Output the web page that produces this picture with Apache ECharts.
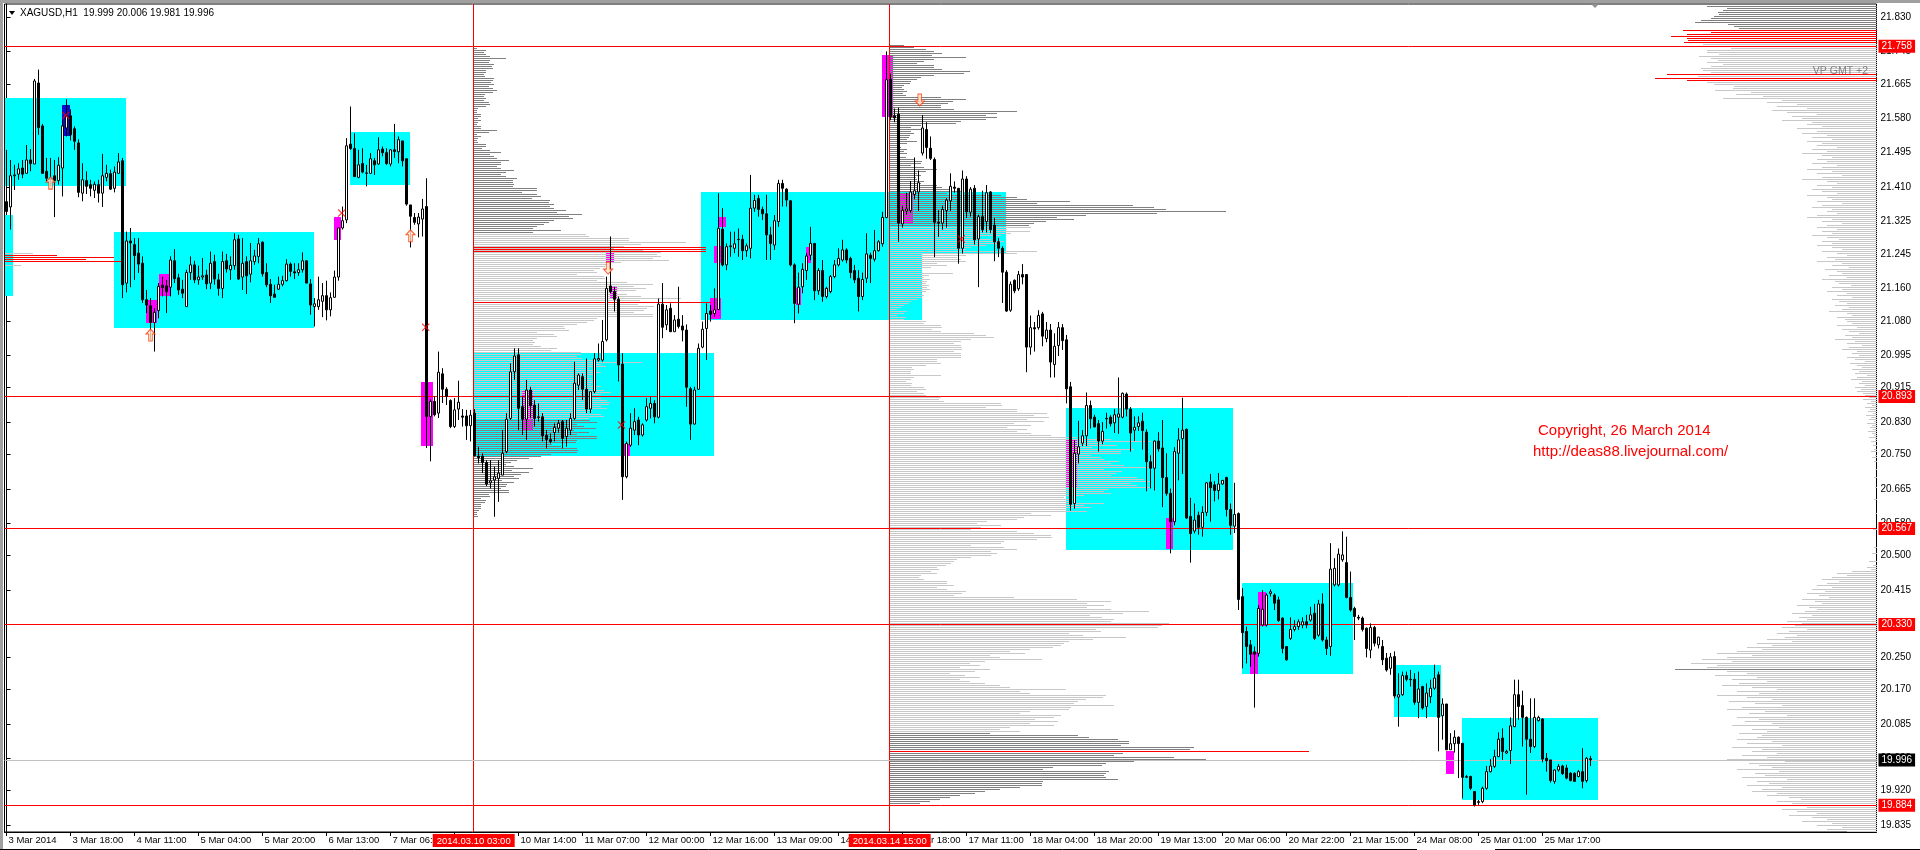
<!DOCTYPE html>
<html><head><meta charset="utf-8">
<script src="https://cdn.jsdelivr.net/npm/echarts@6/dist/echarts.min.js"></script>
<style>html,body{margin:0;padding:0;background:#fff;overflow:hidden}#c{width:1920px;height:850px}</style>
</head><body><div id="c"></div>
<script>
// ---------- DATA ----------
const symbolTitle = 'XAGUSD,H1  19.999 20.006 19.981 19.996';
const timeLabels = ['3 Mar 2014','3 Mar 18:00','4 Mar 11:00','5 Mar 04:00','5 Mar 20:00','6 Mar 13:00','7 Mar 06:00','7 Mar 22:00','10 Mar 14:00','11 Mar 07:00','12 Mar 00:00','12 Mar 16:00','13 Mar 09:00','14 Mar 02:00','14 Mar 18:00','17 Mar 11:00','18 Mar 04:00','18 Mar 20:00','19 Mar 13:00','20 Mar 06:00','20 Mar 22:00','21 Mar 15:00','24 Mar 08:00','25 Mar 01:00','25 Mar 17:00'];
const barsPerLabel = 16;
const slotCount = 468;
const yTicks = [19.835,19.920,20.000,20.085,20.170,20.250,20.330,20.415,20.500,20.580,20.665,20.750,20.830,20.915,20.995,21.080,21.160,21.245,21.325,21.410,21.495,21.580,21.665,21.745,21.830];
const yMin = 19.818, yMax = 21.862;
// hourly bars: [open, high, low, close]
const bars = [
[21.374,21.502,21.346,21.350],[21.361,21.477,21.305,21.438],[21.438,21.465,21.403,21.440],[21.442,21.469,21.428,21.455],[21.457,21.477,21.432,21.442],
[21.444,21.514,21.444,21.477],[21.477,21.504,21.449,21.468],[21.467,21.677,21.467,21.672],[21.667,21.700,21.539,21.557],[21.561,21.566,21.443,21.444],
[21.449,21.482,21.424,21.432],[21.432,21.482,21.412,21.428],[21.438,21.477,21.336,21.426],[21.426,21.484,21.416,21.464],[21.457,21.575,21.387,21.561],
[21.556,21.627,21.535,21.584],[21.586,21.602,21.525,21.539],[21.554,21.560,21.502,21.523],[21.519,21.528,21.385,21.397],[21.395,21.469,21.375,21.428],
[21.426,21.449,21.393,21.412],[21.416,21.428,21.387,21.407],[21.402,21.424,21.383,21.417],[21.416,21.428,21.372,21.395],[21.395,21.492,21.361,21.438],
[21.434,21.465,21.424,21.444],[21.443,21.453,21.403,21.405],[21.407,21.461,21.397,21.447],[21.444,21.494,21.444,21.472],[21.475,21.482,21.136,21.169],
[21.173,21.300,21.150,21.277],[21.277,21.309,21.163,21.272],[21.268,21.284,21.181,21.241],[21.247,21.284,21.198,21.220],[21.222,21.239,21.124,21.132],
[21.132,21.156,21.099,21.119],[21.117,21.136,21.033,21.076],[21.076,21.111,21.004,21.101],[21.105,21.173,21.086,21.165],[21.168,21.189,21.140,21.162],
[21.166,21.181,21.099,21.152],[21.163,21.239,21.140,21.230],[21.228,21.257,21.173,21.184],[21.186,21.196,21.144,21.156],[21.158,21.181,21.136,21.148],
[21.115,21.206,21.115,21.199],[21.199,21.239,21.181,21.218],[21.218,21.228,21.173,21.181],[21.181,21.216,21.169,21.188],[21.188,21.235,21.181,21.191],
[21.193,21.206,21.158,21.171],[21.173,21.251,21.158,21.222],[21.226,21.243,21.169,21.183],[21.181,21.196,21.142,21.160],[21.160,21.251,21.136,21.226],
[21.228,21.245,21.199,21.208],[21.206,21.239,21.181,21.217],[21.216,21.296,21.206,21.280],[21.282,21.292,21.181,21.183],[21.188,21.284,21.156,21.222],
[21.226,21.239,21.146,21.191],[21.195,21.272,21.175,21.228],[21.226,21.255,21.218,21.240],[21.239,21.284,21.222,21.270],[21.274,21.276,21.189,21.196],
[21.199,21.222,21.163,21.169],[21.170,21.183,21.124,21.142],[21.146,21.169,21.138,21.138],[21.158,21.189,21.156,21.170],[21.170,21.191,21.165,21.179],
[21.179,21.232,21.177,21.220],[21.220,21.224,21.189,21.202],[21.201,21.222,21.183,21.198],[21.199,21.222,21.191,21.206],[21.206,21.249,21.199,21.228],
[21.228,21.230,21.173,21.173],[21.171,21.183,21.095,21.119],[21.115,21.136,21.066,21.122],[21.115,21.189,21.107,21.132],[21.128,21.173,21.089,21.142],
[21.142,21.179,21.081,21.107],[21.107,21.150,21.091,21.137],[21.138,21.204,21.137,21.188],[21.188,21.309,21.179,21.309],[21.309,21.362,21.305,21.327],
[21.329,21.531,21.321,21.512],[21.516,21.609,21.502,21.505],[21.505,21.543,21.436,21.436],[21.434,21.502,21.432,21.465],[21.468,21.506,21.444,21.447],
[21.445,21.465,21.412,21.444],[21.444,21.494,21.443,21.480],[21.475,21.482,21.440,21.465],[21.467,21.533,21.465,21.502],[21.504,21.510,21.486,21.495],
[21.495,21.506,21.465,21.468],[21.467,21.504,21.461,21.502],[21.502,21.566,21.482,21.498],[21.497,21.535,21.469,21.527],[21.524,21.524,21.461,21.475],
[21.480,21.480,21.364,21.368],[21.366,21.366,21.261,21.338],[21.335,21.346,21.317,21.323],[21.319,21.346,21.286,21.336],[21.331,21.381,21.288,21.356],
[21.362,21.432,20.766,20.844],[20.844,20.886,20.733,20.881],[20.881,20.893,20.844,20.848],[20.852,21.004,20.840,20.953],[20.949,20.963,20.877,20.911],
[20.911,20.916,20.872,20.893],[20.883,20.886,20.815,20.819],[20.819,20.889,20.815,20.860],[20.862,20.932,20.835,20.879],[20.845,20.862,20.819,20.842],
[20.845,20.860,20.786,20.821],[20.821,20.860,20.782,20.847],[20.852,20.862,20.745,20.747],[20.746,20.769,20.728,20.742],[20.746,20.753,20.704,20.730],
[20.730,20.736,20.672,20.677],[20.680,20.736,20.666,20.685],[20.687,20.720,20.596,20.695],[20.691,20.736,20.633,20.704],[20.699,20.810,20.699,20.753],
[20.757,20.852,20.753,20.837],[20.839,20.975,20.835,20.954],[20.954,21.012,20.934,20.993],[20.996,21.012,20.810,20.864],[20.868,20.893,20.798,20.837],
[20.837,20.934,20.786,20.909],[20.909,20.917,20.839,20.870],[20.872,20.884,20.819,20.839],[20.841,20.876,20.831,20.843],[20.843,20.852,20.782,20.796],
[20.797,20.810,20.765,20.787],[20.787,20.802,20.777,20.782],[20.804,20.827,20.782,20.817],[20.815,20.835,20.804,20.827],[20.831,20.835,20.765,20.790],
[20.794,20.835,20.769,20.815],[20.810,20.852,20.798,20.839],[20.839,20.979,20.835,20.926],[20.921,20.950,20.909,20.946],[20.942,20.950,20.884,20.911],
[20.911,20.987,20.852,20.862],[20.862,20.905,20.852,20.905],[20.905,21.000,20.901,20.986],[20.983,21.024,20.979,20.987],[20.983,21.082,20.979,21.029],
[21.033,21.189,21.029,21.160],[21.166,21.288,21.148,21.152],[21.152,21.164,21.103,21.133],[21.133,21.140,20.930,20.971],[20.973,21.000,20.638,20.695],
[20.695,20.782,20.691,20.777],[20.773,20.852,20.769,20.815],[20.810,20.864,20.798,20.831],[20.835,20.843,20.773,20.798],[20.798,20.827,20.794,20.823],
[20.835,20.889,20.831,20.868],[20.864,20.893,20.839,20.876],[20.876,20.884,20.827,20.843],[20.842,21.135,20.839,21.121],[21.121,21.173,21.037,21.064],
[21.070,21.119,21.057,21.107],[21.111,21.123,21.053,21.053],[21.053,21.094,21.053,21.082],[21.084,21.164,21.061,21.066],[21.067,21.094,21.029,21.057],
[21.057,21.071,20.868,20.916],[20.912,20.917,20.786,20.825],[20.825,20.917,20.823,20.909],[20.911,21.024,20.909,21.012],[21.015,21.078,21.012,21.059],
[21.061,21.123,20.983,21.098],[21.104,21.119,21.078,21.096],[21.098,21.160,21.090,21.107],[21.108,21.395,21.107,21.308],[21.306,21.358,21.214,21.218],
[21.218,21.271,21.205,21.263],[21.263,21.300,21.238,21.265],[21.259,21.300,21.247,21.270],[21.280,21.308,21.238,21.281],[21.281,21.292,21.230,21.253],
[21.253,21.271,21.238,21.265],[21.259,21.440,21.234,21.358],[21.358,21.391,21.349,21.377],[21.382,21.391,21.337,21.355],[21.355,21.362,21.329,21.344],
[21.344,21.391,21.230,21.292],[21.292,21.312,21.230,21.271],[21.267,21.341,21.255,21.327],[21.325,21.428,21.312,21.419],[21.419,21.428,21.362,21.407],
[21.405,21.407,21.362,21.378],[21.376,21.378,21.214,21.218],[21.218,21.222,21.074,21.123],[21.121,21.199,21.098,21.163],[21.164,21.222,21.148,21.207],
[21.204,21.247,21.181,21.240],[21.242,21.312,21.230,21.271],[21.271,21.271,21.131,21.154],[21.154,21.210,21.144,21.204],[21.204,21.230,21.127,21.140],
[21.140,21.164,21.135,21.160],[21.152,21.193,21.148,21.189],[21.189,21.230,21.185,21.218],[21.218,21.259,21.214,21.234],[21.230,21.280,21.226,21.255],
[21.255,21.259,21.222,21.230],[21.234,21.238,21.185,21.199],[21.204,21.218,21.173,21.181],[21.185,21.205,21.103,21.140],[21.140,21.199,21.131,21.182],
[21.185,21.296,21.173,21.245],[21.242,21.248,21.173,21.234],[21.232,21.304,21.226,21.253],[21.253,21.279,21.251,21.275],[21.270,21.349,21.263,21.335],
[21.335,21.745,21.333,21.675],[21.676,21.690,21.575,21.583],[21.586,21.604,21.570,21.581],[21.590,21.606,21.275,21.321],[21.319,21.364,21.310,21.353],
[21.351,21.396,21.342,21.356],[21.352,21.425,21.346,21.398],[21.392,21.483,21.380,21.401],[21.398,21.451,21.351,21.421],[21.494,21.588,21.488,21.556],
[21.552,21.570,21.480,21.508],[21.506,21.535,21.477,21.481],[21.478,21.483,21.237,21.323],[21.323,21.353,21.287,21.321],[21.321,21.364,21.305,21.355],
[21.352,21.383,21.310,21.378],[21.376,21.444,21.351,21.412],[21.410,21.424,21.396,21.407],[21.407,21.407,21.221,21.259],[21.259,21.451,21.246,21.430],
[21.430,21.437,21.334,21.349],[21.348,21.410,21.337,21.405],[21.407,21.415,21.268,21.280],[21.282,21.342,21.163,21.337],[21.337,21.401,21.298,21.305],
[21.325,21.415,21.298,21.396],[21.398,21.400,21.296,21.305],[21.316,21.334,21.227,21.275],[21.275,21.284,21.237,21.259],[21.259,21.264,21.124,21.200],
[21.200,21.205,21.102,21.104],[21.106,21.177,21.102,21.170],[21.180,21.182,21.148,21.154],[21.159,21.203,21.154,21.194],[21.194,21.220,21.170,21.188],
[21.194,21.195,20.953,21.015],[21.015,21.093,20.996,21.063],[21.063,21.077,21.004,21.060],[21.063,21.106,21.058,21.093],[21.097,21.102,21.017,21.042],
[21.036,21.077,21.027,21.057],[21.057,21.072,20.940,20.978],[20.972,21.049,20.940,21.017],[21.019,21.077,20.993,21.063],[21.063,21.072,21.008,21.031],
[21.033,21.045,20.876,20.912],[20.917,20.929,20.611,20.627],[20.629,20.785,20.616,20.753],[20.751,20.833,20.728,20.769],[20.778,20.810,20.771,20.796],
[20.796,20.903,20.771,20.871],[20.871,20.883,20.814,20.838],[20.842,20.848,20.817,20.818],[20.826,20.835,20.757,20.783],[20.783,20.830,20.775,20.807],
[20.839,20.853,20.814,20.838],[20.842,20.847,20.819,20.826],[20.828,20.862,20.803,20.848],[20.842,20.940,20.801,20.850],[20.842,20.903,20.839,20.901],
[20.899,20.903,20.844,20.862],[20.862,20.867,20.757,20.803],[20.810,20.844,20.783,20.817],[20.819,20.844,20.808,20.828],[20.832,20.853,20.762,20.809],
[20.805,20.812,20.659,20.732],[20.732,20.748,20.666,20.716],[20.716,20.785,20.661,20.783],[20.783,20.805,20.757,20.764],[20.766,20.835,20.620,20.693],
[20.693,20.753,20.648,20.654],[20.654,20.666,20.506,20.584],[20.584,20.768,20.575,20.757],[20.753,20.815,20.686,20.786],[20.789,20.890,20.702,20.810],
[20.812,20.814,20.591,20.593],[20.597,20.643,20.483,20.555],[20.561,20.629,20.555,20.588],[20.600,20.609,20.552,20.570],[20.570,20.622,20.547,20.607],
[20.607,20.682,20.598,20.680],[20.682,20.702,20.584,20.668],[20.675,20.684,20.634,20.661],[20.661,20.704,20.639,20.677],[20.677,20.686,20.675,20.686],
[20.693,20.695,20.597,20.614],[20.614,20.629,20.552,20.575],[20.573,20.680,20.556,20.602],[20.604,20.607,20.366,20.392],[20.399,20.420,20.222,20.310],
[20.313,20.325,20.234,20.276],[20.280,20.292,20.226,20.257],[20.263,20.276,20.125,20.257],[20.259,20.378,20.251,20.370],[20.329,20.415,20.325,20.368],
[20.329,20.407,20.325,20.403],[20.407,20.417,20.399,20.411],[20.403,20.407,20.366,20.383],[20.391,20.399,20.337,20.340],[20.346,20.348,20.259,20.271],
[20.276,20.277,20.241,20.243],[20.296,20.348,20.292,20.318],[20.318,20.341,20.313,20.325],[20.325,20.343,20.317,20.337],[20.329,20.348,20.321,20.337],
[20.337,20.354,20.321,20.329],[20.341,20.374,20.337,20.354],[20.358,20.381,20.292,20.296],[20.304,20.391,20.300,20.381],[20.381,20.407,20.288,20.292],
[20.292,20.300,20.255,20.271],[20.276,20.531,20.253,20.467],[20.428,20.494,20.424,20.469],[20.428,20.518,20.424,20.504],[20.490,20.560,20.485,20.502],
[20.483,20.547,20.395,20.397],[20.397,20.461,20.362,20.366],[20.370,20.374,20.292,20.350],[20.348,20.354,20.341,20.346],[20.346,20.350,20.313,20.318],
[20.321,20.323,20.249,20.271],[20.267,20.333,20.247,20.323],[20.323,20.327,20.276,20.284],[20.280,20.300,20.271,20.299],[20.276,20.292,20.230,20.243],
[20.247,20.260,20.214,20.218],[20.222,20.260,20.206,20.250],[20.251,20.264,20.148,20.154],[20.151,20.210,20.078,20.157],[20.157,20.214,20.154,20.204],
[20.204,20.214,20.190,20.195],[20.195,20.218,20.177,20.194],[20.195,20.210,20.132,20.138],[20.138,20.214,20.099,20.171],[20.177,20.179,20.120,20.124],
[20.128,20.185,20.099,20.161],[20.152,20.194,20.136,20.173],[20.173,20.231,20.169,20.198],[20.206,20.214,20.017,20.101],[20.105,20.148,20.046,20.134],
[20.134,20.134,20.021,20.021],[20.021,20.062,20.021,20.036],[20.036,20.069,20.014,20.052],[20.052,20.054,19.951,20.036],[20.037,20.037,19.901,19.953],
[19.953,19.959,19.951,19.955],[19.955,19.957,19.922,19.926],[19.918,19.918,19.881,19.885],[19.891,19.897,19.885,19.893],[19.893,19.930,19.889,19.926],
[19.926,19.981,19.922,19.967],[19.967,19.998,19.965,19.981],[19.980,20.021,19.976,20.004],[20.004,20.064,20.003,20.047],[20.050,20.074,19.996,20.017],
[20.013,20.021,20.011,20.017],[20.019,20.101,19.986,20.080],[20.078,20.194,20.077,20.157],[20.157,20.194,20.095,20.128],[20.130,20.167,20.029,20.101],
[20.101,20.103,19.910,20.047],[20.047,20.148,20.013,20.029],[20.029,20.148,20.025,20.101],[20.093,20.105,20.091,20.101],[20.097,20.099,19.990,19.998],
[20.000,20.013,19.967,19.994],[19.996,19.996,19.940,19.945],[19.943,19.973,19.937,19.971],[19.971,19.986,19.967,19.980],[19.981,19.984,19.959,19.962],
[19.976,19.984,19.948,19.951],[19.963,19.966,19.943,19.945],[19.963,19.965,19.943,19.943],[19.955,19.971,19.953,19.967],[19.967,20.025,19.926,19.943],
[19.945,20.003,19.940,20.000],[19.999,20.006,19.981,19.996]
];
// zones: [fromBar, toBar, topPrice, bottomPrice]
const cyanZones = [[-0.33,29.75,21.631,21.413],[-0.33,1.67,21.342,21.142],[26.8,76.8,21.300,21.062],[85.75,100.75,21.545,21.416],[116.8,176.8,21.000,20.746],[173.7,228.75,21.399,21.083],[220.8,249.75,21.399,21.246],[264.75,306.7,20.865,20.513],[308.75,336.7,20.433,20.209],[346.8,358.7,20.231,20.101],[363.75,397.75,20.100,19.898]];
const magentaZones = [[34.8,37.7,21.132,21.074],[38,40.8,21.196,21.140],[81.8,83.7,21.335,21.280],[103.7,106.7,20.928,20.771],[128.9,131.7,20.909,20.810],[149.75,151.8,21.251,21.222],[150.8,152.7,21.166,21.133],[154.3,155.8,20.777,20.746],[175.8,178.7,21.135,21.084],[176.8,178.7,21.265,21.222],[177.8,179.75,21.335,21.311],[197.25,198.7,21.160,21.119],[199.8,201.2,21.263,21.222],[218.75,221.7,21.736,21.582],[222.7,226.7,21.392,21.321],[264.75,267.7,20.789,20.670],[289.75,291.7,20.593,20.516],[310.75,312.75,20.263,20.208],[312.8,314.8,20.411,20.327],[359.75,361.8,20.017,19.962]];
const blueZones = [[13.75,15.8,21.613,21.537]];
const levelPrices = ['21.758','20.893','20.567','20.330','19.884'];
const bidPrice = '19.996';
const sessionStarts = [[116.8,'2014.03.10 03:00'],[220.8,'2014.03.14 15:00']];
// point-of-control segments: [fromBar, toBar, price]
const pocRed = [[-0.5,12.67,21.242],[-0.5,26.8,21.237],[-0.5,19.75,21.232],[-0.5,28.5,21.227],[116.8,174.75,21.261],[116.8,174.75,21.257],[116.8,174.75,21.253],[116.8,176,21.127],[220.8,325.5,20.019]];
const pocGrey = [[-0.5,6.67,21.247],[-0.5,3.67,21.217]];
// volume profiles (volume per price row, rows 0.00494 apart, from top price downwards)
const profileStep = 0.00494;
const profileAStart = [116.8, 21.758];
const profileAValueArea = [94, 186];
const profileAVolumes = [3,3,12,10,12,16,32,16,15,20,18,19,12,12,10,11,20,19,17,20,15,19,23,19,11,10,12,10,15,16,12,4,3,3,7,7,4,7,4,3,7,7,23,15,3,7,4,3,4,12,12,8,16,27,16,20,23,35,27,27,23,27,40,32,27,32,43,39,39,40,39,63,63,48,63,67,58,76,75,80,76,80,92,83,108,95,99,80,75,70,63,59,87,59,
112,115,155,155,212,167,150,140,169,187,183,187,179,195,147,133,131,126,120,123,103,130,131,123,153,179,160,172,162,143,153,167,207,166,171,164,180,173,170,160,179,179,123,120,113,103,90,91,95,63,80,83,63,59,61,59,67,83,77,107,107,103,108,122,168,127,132,115,123,127,120,115,117,123,120,117,127,123,130,137,127,118,127,133,136,135,127,133,118,115,127,130,115,
116,123,103,110,122,100,115,103,123,123,103,102,78,87,103,104,103,77,67,55,43,37,32,40,59,38,55,47,40,45,28,40,33,32,27,35,35,15,16,7,12,11,7,7,7,5,3,3,4];
const profileBStart = [220.8, 21.761];
const profileBValueArea = [91, 343];
const profileBVolumes = [14,24,36,44,52,42,76,44,34,27,44,44,52,80,74,44,31,27,21,20,14,12,14,17,13,16,51,76,63,58,51,51,64,127,107,96,107,96,71,66,31,21,34,21,24,20,19,17,27,17,7,11,17,14,17,9,16,24,32,31,21,34,47,36,27,31,26,27,34,31,47,52,61,74,57,111,127,137,180,147,243,264,276,336,267,196,167,184,156,144,139,
141,117,140,121,111,87,101,114,107,96,81,76,147,127,76,67,71,76,47,57,41,32,31,63,39,34,40,37,36,39,37,40,36,31,34,32,27,21,19,14,11,7,17,14,7,16,14,36,34,51,52,42,51,84,96,104,81,71,64,71,72,72,64,71,71,71,47,47,51,36,22,24,21,21,51,24,21,16,22,21,34,36,27,34,36,51,49,54,111,112,96,127,127,157,144,159,137,154,124,141,117,137,127,141,161,187,221,261,214,227,202,244,231,231,201,211,214,229,221,234,261,214,232,226,221,247,254,261,241,247,261,219,214,221,194,174,187,181,214,194,201,177,197,141,161,134,127,97,87,111,91,81,127,144,161,162,147,114,111,81,114,127,101,107,101,81,67,64,61,56,47,49,41,47,31,29,34,57,57,64,47,57,76,72,64,124,187,221,197,214,197,221,259,
233,200,212,224,221,279,272,268,206,211,179,193,236,203,179,174,171,163,140,120,135,100,110,152,95,80,90,70,100,85,60,75,90,70,80,95,110,120,176,130,140,216,213,196,188,184,224,181,179,140,130,171,164,145,168,140,164,120,110,130,
100,188,199,228,239,239,231,304,300,256,233,224,284,316,244,216,212,163,153,219,216,214,216,228,153,152,152,130,110,95,85,70,60,50,40,30];
const rightProfileTop = 21.856;
const rightProfileRed = [12,13,14,15,16,17,18,34,36,37];
const rightProfileDark = [0,1,2,3,4,5,6,7,8,9,10,11,331];
const rightProfileVolumes = [170,150,154,159,158,163,166,176,182,149,143,138,194,166,190,206,190,189,193,174,170,146,170,170,158,178,166,159,170,154,166,176,174,166,210,179,222,190,170,163,143,144,162,126,141,114,154,
95,110,80,100,70,105,90,60,85,75,95,65,
70,55,80,60,75,50,65,45,70,55,60,40,65,50,75,55,45,60,
50,65,40,55,70,45,60,35,55,75,50,40,60,45,65,55,40,70,50,45,60,35,55,65,45,50,40,60,70,45,55,35,50,60,40,55,45,65,50,38,55,45,60,
45,35,55,40,30,50,42,60,35,45,28,52,40,35,48,30,55,42,38,26,45,35,50,30,40,25,45,38,30,42,28,35,48,30,25,40,32,
30,25,40,20,35,28,18,32,25,42,22,30,15,28,35,20,25,18,30,22,12,27,20,15,25,18,22,10,20,26,15,18,12,22,16,20,14,
12,8,14,6,10,5,12,7,9,4,11,6,8,3,10,5,7,4,9,
5,3,8,2,6,0,4,0,3,6,0,2,5,0,3,0,
0,0,2,0,0,0,3,0,0,0,0,2,0,0,0,0,0,3,0,0,0,0,0,0,2,0,0,0,0,0,0,0,4,0,0,0,0,0,0,0,0,3,0,0,5,0,0,0,8,0,4,10,6,
25,40,30,45,55,38,50,60,45,65,52,70,58,48,75,62,55,80,68,60,72,85,65,78,70,90,75,82,95,70,88,100,80,92,110,85,120,105,130,115,
140,160,125,150,175,145,186,160,170,202,
150,130,162,120,145,110,138,155,125,100,140,118,160,130,105,148,122,95,135,150,112,128,90,140,118,132,105,145,98,125,110,138,115,
120,140,105,130,95,145,115,125,100,135,110,150,92,128,118,105,140,98,122,112,135,90,120,108,130,95,115,125,100,110,88,
76,100,85,110,70,95,80,60,88,65,50,75,45,60,35,50,30];
const volumePerBar = 4;
const upArrows = [[11,21.42],[36,21.045],[101,21.29]];
const downArrows = [[150.4,21.21],[228.3,21.625]];
const crossMarks = [[14.8,21.587],[83.8,21.346],[104.8,21.064],[153.75,20.823],[238.7,21.282]];

// ---------- CHART ----------
const DARK = '#808080', LIGHT = '#c8c8c8', RED = '#ff0000';
const profileRows = [];
profileAVolumes.forEach((v, i) => { if (v > 0) profileRows.push([profileAStart[0], profileAStart[0] + v / volumePerBar, profileAStart[1] - i * profileStep, (i >= profileAValueArea[0] && i <= profileAValueArea[1]) ? 1 : 0]); });
profileBVolumes.forEach((v, i) => { if (v > 0) profileRows.push([profileBStart[0], profileBStart[0] + v / volumePerBar, profileBStart[1] - i * profileStep, (i >= profileBValueArea[0] && i <= profileBValueArea[1]) ? 1 : 0]); });
const rightEdge = slotCount - 0.5;
rightProfileVolumes.forEach((v, i) => { if (v > 0) profileRows.push([rightEdge - v / volumePerBar, rightEdge, rightProfileTop - i * profileStep, rightProfileRed.includes(i) ? 2 : (rightProfileDark.includes(i) ? 0 : 1)]); });
pocGrey.forEach(s => profileRows.push([s[0], s[1], s[2], 1]));
pocRed.forEach(s => profileRows.push([s[0], s[1], s[2], 2]));
const palette = [DARK, LIGHT, RED];

const zoneRows = [];
cyanZones.forEach(z => zoneRows.push([z[0], z[1], z[2], z[3], 0]));
magentaZones.forEach(z => zoneRows.push([z[0], z[1], z[2], z[3], 1]));
blueZones.forEach(z => zoneRows.push([z[0], z[1], z[2], z[3], 2]));
const zoneColors = ['#00ffff', '#ff00ff', '#0c0cd8'];

const categories = Array.from({length: slotCount}, (_, i) => String(i));
const showLabel = (i) => i % barsPerLabel === 0 && (i / barsPerLabel) < timeLabels.length;
const FONT = 'Liberation Sans, Arial, sans-serif';

const chart = echarts.init(document.getElementById('c'), null, {renderer: 'canvas'});
chart.setOption({
  animation: false,
  backgroundColor: '#ffffff',
  grid: {left: 4.5, top: 4, right: 43.5, bottom: 18, show: true, borderColor: '#000', borderWidth: 1, backgroundColor: 'transparent'},
  xAxis: [{
    type: 'category', data: categories, boundaryGap: true,
    axisLine: {show: true, lineStyle: {color: '#000', width: 1}},
    axisTick: {show: true, alignWithLabel: true, interval: showLabel, length: 4, lineStyle: {color: '#000'}},
    axisLabel: {show: true, interval: showLabel, formatter: (v, i) => timeLabels[Math.round(Number(v) / barsPerLabel)] || '', align: 'left', margin: 3, padding: [0, 0, 0, 2], color: '#000', fontSize: 9.5, fontFamily: FONT},
    splitLine: {show: false}
  }, {
    type: 'value', min: -0.5, max: slotCount - 0.5, show: false
  }],
  yAxis: {
    type: 'value', position: 'right', min: yMin, max: yMax, scale: true,
    axisLine: {show: true, lineStyle: {color: '#000', width: 1}},
    axisTick: {show: true, length: 4, customValues: yTicks, lineStyle: {color: '#000'}},
    axisLabel: {show: true, customValues: yTicks, formatter: v => Number(v).toFixed(3), margin: 4, color: '#000', fontSize: 10, fontFamily: FONT, align: 'left'},
    splitLine: {show: false}
  },
  graphic: [
    {type: 'rect', shape: {x: 0, y: 0, width: 1920, height: 3}, style: {fill: '#a0a0a0'}, z: 100},
    {type: 'rect', shape: {x: 0, y: 0, width: 3, height: 850}, style: {fill: '#a0a0a0'}, z: 100},
    {type: 'line', shape: {x1: 0, y1: 849.5, x2: 1417, y2: 849.5}, style: {stroke: '#000', lineWidth: 1}, z: 100},
    {type: 'line', shape: {x1: 1495, y1: 849.5, x2: 1920, y2: 849.5}, style: {stroke: '#000', lineWidth: 1}, z: 100},
    {type: 'polygon', shape: {points: [[9, 11], [15, 11], [12, 15]]}, style: {fill: '#000'}, z: 100},
    {type: 'text', left: 20, top: 8, style: {text: symbolTitle, fill: '#000', font: '10px ' + FONT}, z: 100},
    {type: 'polygon', shape: {points: [[1591, 4], [1599, 4], [1595, 8]]}, style: {fill: '#909090'}, z: 100},
    {type: 'text', left: 1538, top: 423, style: {text: 'Copyright, 26 March 2014', fill: RED, font: '15px ' + FONT}, z: 100},
    {type: 'text', left: 1533, top: 444, style: {text: 'http://deas88.livejournal.com/', fill: RED, font: '15px ' + FONT}, z: 100},
    {type: 'text', right: 52, top: 66, style: {text: 'VP GMT +2', fill: '#808080', font: '10.5px ' + FONT}, z: 100}
  ],
  series: [
    {
      type: 'custom', name: 'zones', xAxisIndex: 1, yAxisIndex: 0, z: 1, clip: true, silent: true,
      data: zoneRows,
      renderItem: (params, api) => {
        const a = api.coord([api.value(0), api.value(2)]);
        const b = api.coord([api.value(1), api.value(3)]);
        return {type: 'rect', shape: {x: Math.round(a[0]), y: Math.round(a[1]), width: Math.round(b[0]) - Math.round(a[0]), height: Math.round(b[1]) - Math.round(a[1])}, style: {fill: zoneColors[api.value(4)]}};
      },
      markLine: {
        silent: true, symbol: ['none', 'none'], z: 3,
        lineStyle: {color: RED, width: 1, type: 'solid'},
        label: {show: true, position: 'start', distance: 2, formatter: p => p.name, backgroundColor: RED, color: '#fff', fontSize: 9.5, fontFamily: FONT, padding: [2, 4, 1, 4]},
        data: sessionStarts.map(s => ({xAxis: s[0], name: s[1]}))
      }
    },
    {
      type: 'custom', name: 'profiles', xAxisIndex: 1, yAxisIndex: 0, z: 2, clip: true, silent: true,
      data: profileRows,
      renderItem: (params, api) => {
        const a = api.coord([api.value(0), api.value(2)]);
        const b = api.coord([api.value(1), api.value(2)]);
        const y = Math.round(a[1]) + 0.5;
        return {type: 'line', shape: {x1: Math.round(a[0]), y1: y, x2: Math.round(b[0]), y2: y}, style: {stroke: palette[api.value(3)], lineWidth: 1}};
      },
      markLine: {
        silent: true, symbol: ['none', 'none'], z: 3, precision: 3,
        label: {show: true, position: 'end', distance: 2, formatter: p => p.name, color: '#fff', fontSize: 10, fontFamily: FONT, padding: [2, 3, 1, 3]},
        data: levelPrices.map(v => ({yAxis: Number(v), name: v, lineStyle: {color: RED, width: 1, type: 'solid'}, label: {backgroundColor: RED}}))
          .concat([{yAxis: Number(bidPrice), name: bidPrice, lineStyle: {color: '#c0c0c0', width: 1, type: 'solid'}, label: {backgroundColor: '#000'}}])
      }
    },
    {
      type: 'candlestick', name: 'XAGUSD', xAxisIndex: 0, yAxisIndex: 0, z: 4, barWidth: 2,
      data: bars.map(b => [b[0], b[3], b[2], b[1]]),
      itemStyle: {color: '#ffffff', color0: '#000000', borderColor: '#000000', borderColor0: '#000000', borderWidth: 1}
    },
    {
      type: 'scatter', xAxisIndex: 1, yAxisIndex: 0, z: 5, silent: true,
      symbol: 'path://M5,0 L10,5 L7,5 L7,12 L3,12 L3,5 L0,5 Z', symbolSize: [9, 12],
      itemStyle: {color: '#ffe6c8', borderColor: '#ff3000', borderWidth: 1},
      data: upArrows
    },
    {
      type: 'scatter', xAxisIndex: 1, yAxisIndex: 0, z: 5, silent: true,
      symbol: 'path://M5,0 L10,5 L7,5 L7,12 L3,12 L3,5 L0,5 Z', symbolSize: [9, 12], symbolRotate: 180,
      itemStyle: {color: '#ffe6c8', borderColor: '#ff3000', borderWidth: 1},
      data: downArrows
    },
    {
      type: 'scatter', xAxisIndex: 1, yAxisIndex: 0, z: 5, silent: true,
      symbol: 'path://M0,1 L1,0 L5,4 L9,0 L10,1 L6,5 L10,9 L9,10 L5,6 L1,10 L0,9 L4,5 Z', symbolSize: 8,
      itemStyle: {color: '#ff0000'},
      data: crossMarks
    }
  ]
});
</script>
</body></html>
